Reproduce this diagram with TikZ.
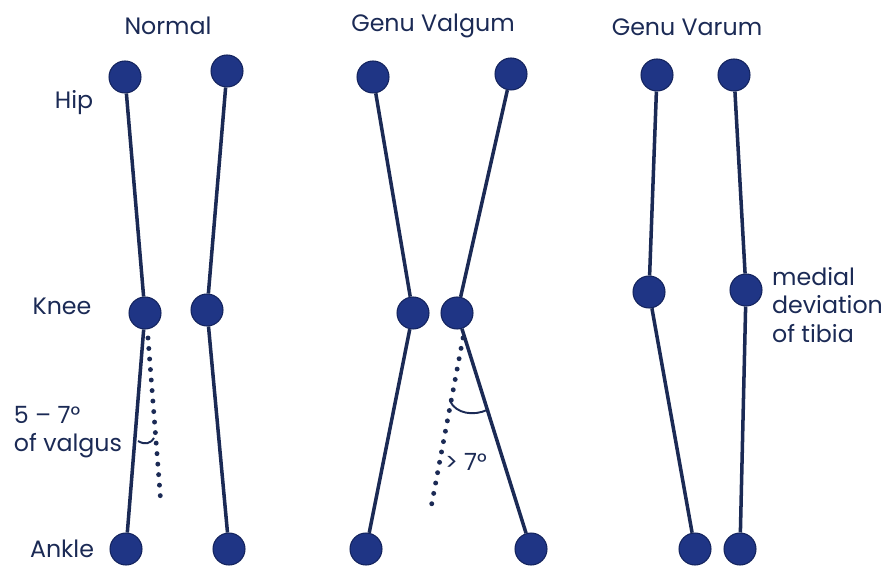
\documentclass[tikz,border=0pt]{standalone}
\usepackage{fontspec}
\setmainfont{Poppins}
\usepackage{tikz}
\usetikzlibrary{positioning}
\definecolor{ink}{HTML}{1B2A55}
\definecolor{joint}{HTML}{1F3585}
\definecolor{jointedge}{HTML}{14245E}
\tikzset{
  jointdot/.style={circle,fill=joint,draw=jointedge,line width=0.6pt,
    minimum size=0.64cm,inner sep=0pt},
  bone/.style={draw=ink,line width=2pt},
  axisline/.style={draw=ink,line width=2.8pt,dash pattern=on 0pt off 6pt,line cap=round},
  anglemark/.style={draw=ink,line width=1.1pt},
  hand/.style={text=ink,font=\fontsize{13.5}{16}\selectfont,align=left,inner sep=1pt}
}

\begin{document}
\begin{tikzpicture}[x=0.02cm,y=-0.02cm]
\useasboundingbox (0,0) rectangle (888,570);
% titles
\node[hand] (tnormal) at (168,26) {Normal};
\node[hand] (tvalgum) at (433,26) {Genu Valgum};
\node[hand] (tvarum) at (687,27) {Genu Varum};
% joint labels
\node[hand] (lhip) at (74,103) {Hip};
\node[hand] (lknee) at (62,306) {Knee};
\node[hand] (lankle) at (62,549) {Ankle};
% normal
\node[jointdot] (nhl) at (125,77) {};
\node[jointdot] (nhr) at (227,71) {};
\node[jointdot] (nkl) at (145,313) {};
\node[jointdot] (nkr) at (207,310) {};
\node[jointdot] (nal) at (126,549) {};
\node[jointdot] (nar) at (229,549) {};
\draw[bone] (nhl) -- (nkl);
\draw[bone] (nkl) -- (nal);
\draw[bone] (nhr) -- (nkr);
\draw[bone] (nkr) -- (nar);
\coordinate (naxa) at (148,338);
\coordinate (naxb) at (161,505);
\draw[axisline] (naxa) -- (naxb);
\coordinate (nanga) at (138,441);
\coordinate (nangb) at (154,438);
\draw[anglemark] (nanga) .. controls (145,445) and (150,444) .. (nangb);
\node[hand] (nangle) at (68,432) {5 -- 7°\\of valgus};
% genu valgum
\node[jointdot] (ghl) at (373,77) {};
\node[jointdot] (ghr) at (511,74) {};
\node[jointdot] (gkl) at (413,313) {};
\node[jointdot] (gkr) at (457,313) {};
\node[jointdot] (gal) at (366,549) {};
\node[jointdot] (gar) at (531,549) {};
\draw[bone] (ghl) -- (gkl);
\draw[bone] (gkl) -- (gal);
\draw[bone] (ghr) -- (gkr);
\draw[bone] (gkr) -- (gar);
\coordinate (gaxa) at (463,338);
\coordinate (gaxb) at (430,513);
\draw[axisline] (gaxa) -- (gaxb);
\coordinate (ganga) at (450,401);
\coordinate (gangb) at (487,410);
\draw[anglemark] (ganga) .. controls (456,414) and (474,416) .. (gangb);
\node[hand] (gangle) at (466,462) {> 7°};
% genu varum
\node[jointdot] (vhl) at (657,75) {};
\node[jointdot] (vhr) at (734,75) {};
\node[jointdot] (vkl) at (649,292) {};
\node[jointdot] (vkr) at (746,290) {};
\node[jointdot] (val) at (695,549) {};
\node[jointdot] (var) at (740,549) {};
\draw[bone] (vhl) -- (vkl);
\draw[bone] (vkl) -- (val);
\draw[bone] (vhr) -- (vkr);
\draw[bone] (vkr) -- (var);
\node[hand,anchor=west] (vnote) at (770,305) {medial\\deviation\\of tibia};
\end{tikzpicture}
\end{document}
